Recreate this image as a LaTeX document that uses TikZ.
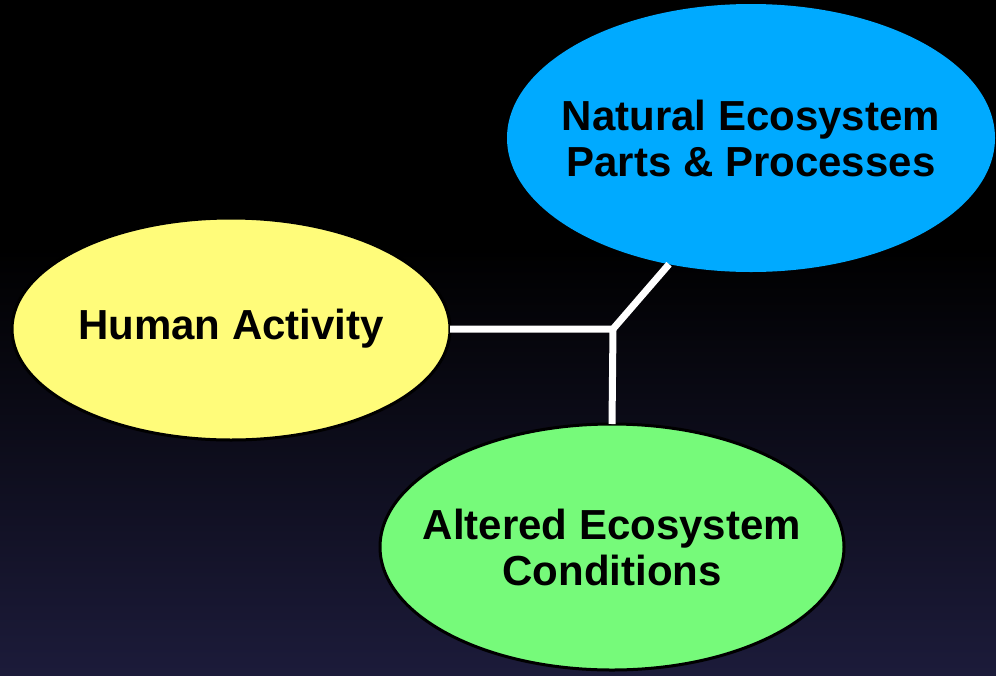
\documentclass[tikz,border=0pt]{standalone}
\usepackage{fontspec}
\setmainfont{Liberation Sans}
\usetikzlibrary{shapes.geometric}

\definecolor{bubbleyellow}{RGB}{255,252,122}
\definecolor{bubbleblue}{RGB}{0,170,255}
\definecolor{bubblegreen}{RGB}{118,250,122}
\definecolor{nightblue}{RGB}{28,27,58}

\begin{document}
\begin{tikzpicture}[x=1pt,y=-1pt,
   bubble/.style={ellipse,draw=black,line width=3pt,inner sep=-80pt,outer sep=0pt,align=center,
      font=\fontsize{42}{46}\selectfont\bfseries},
   link/.style={draw=white,line width=7pt}]
   \useasboundingbox (0,0) rectangle (996,675);
   % background
   \fill[black] (0,0) rectangle (996,250);
   \shade[top color=black,bottom color=nightblue] (0,249) rectangle (996,675);

   \node[bubble,fill=bubbleyellow,minimum width=438pt,minimum height=222pt] (ha) at (231,329) {Human Activity};
   \node[bubble,fill=bubbleblue,draw=none,minimum width=488pt,minimum height=268pt] (ne) at (751,138) {Natural Ecosystem\\Parts \& Processes};
   \node[bubble,fill=bubblegreen,minimum width=464pt,minimum height=246pt] (ac) at (612,547) {Altered Ecosystem\\Conditions};

   \coordinate (j) at (613,329);

   \path[link] (ha.east) -- (j) -- (ne.237);
   \path[link] (j) -- (ac.north);
\end{tikzpicture}
\end{document}
